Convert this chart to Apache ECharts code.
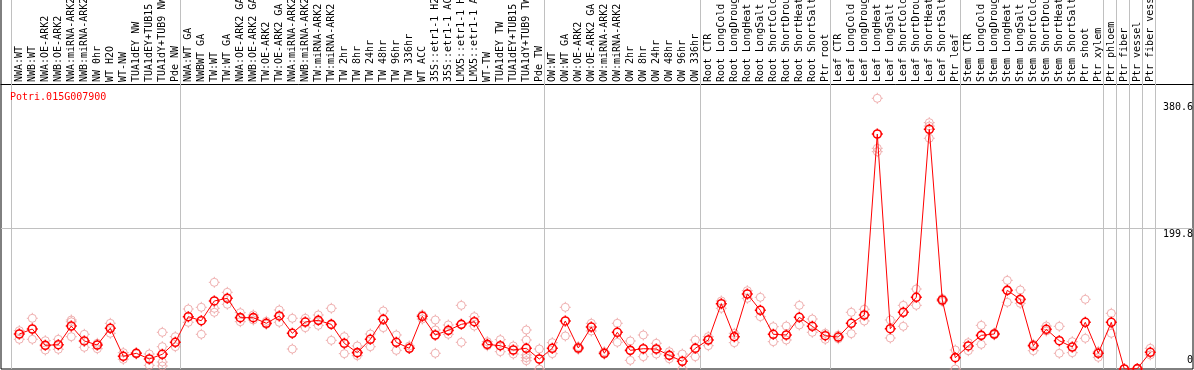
<!DOCTYPE html>
<html>
<head>
<meta charset="utf-8">
<script src="https://cdn.jsdelivr.net/npm/echarts@6/dist/echarts.min.js"></script>
<style>
html,body{margin:0;padding:0;background:#fff;}
#chart{width:1194px;height:370px;}
</style>
</head>
<body>
<div id="chart"></div>
<script>
const geneName = 'Potri.015G007900';

const categories = [
  'NWA:WT','NWB:WT','NWA:OE-ARK2','NWB:OE-ARK2','NWA:miRNA-ARK2','NWB:miRNA-ARK2','NW 0hr','WT H2O','WT-NW',
  'TUA1dEY NW','TUA1dEY+TUB15 NW','TUA1dY+TUB9 NW','Pde NW',
  'NWA:WT GA','NWBWT GA','TW:WT','TW:WT GA','NWA:OE-ARK2 GA','NWB:OE-ARK2 GA','TW:OE-ARK2','TW:OE-ARK2 GA',
  'NWA:miRNA-ARK2','NWB:miRNA-ARK2','TW:miRNA-ARK2','TW:miRNA-ARK2','TW 2hr','TW 8hr','TW 24hr','TW 48hr','TW 96hr','TW 336hr',
  'WT ACC','35S::etr1-1 H2O','35S::etr1-1 ACC','LMX5::etr1-1 H2O','LMX5::etr1-1 ACC','WT-TW','TUA1dEY TW','TUA1dEY+TUB15 TW','TUA1dY+TUB9 TW','Pde TW',
  'OW:WT','OW:WT GA','OW:OE-ARK2','OW:OE-ARK2 GA','OW:miRNA-ARK2','OW:miRNA-ARK2','OW 2hr','OW 8hr','OW 24hr','OW 48hr','OW 96hr','OW 336hr',
  'Root CTR','Root LongCold','Root LongDrought','Root LongHeat','Root LongSalt','Root ShortCold','Root ShortDrought','Root ShortHeat','Root ShortSalt','Ptr root',
  'Leaf CTR','Leaf LongCold','Leaf LongDrought','Leaf LongHeat','Leaf LongSalt','Leaf ShortCold','Leaf ShortDrought','Leaf ShortHeat','Leaf ShortSalt','Ptr leaf',
  'Stem CTR','Stem LongCold','Stem LongDrought','Stem LongHeat','Stem LongSalt','Stem ShortCold','Stem ShortDrought','Stem ShortHeat','Stem ShortSalt','Ptr shoot',
  'Ptr xylem','Ptr phloem','Ptr fiber','Ptr vessel','Ptr fiber vessel'
];

const meanValues = [
  49.7,56.8,33.6,34.5,61.0,39.8,34.1,57.8,18.0,22.3,14.2,20.9,37.9,
  74.3,68.6,96.6,100.4,72.9,72.9,64.9,75.3,50.7,66.7,69.1,63.4,36.5,23.2,42.2,70.6,37.9,29.4,
  74.8,48.3,54.9,63.4,67.2,35.0,33.1,27.0,29.4,14.2,
  29.4,68.2,29.8,59.6,22.3,52.1,26.5,28.8,28.4,19.4,10.9,29.4,
  41.2,92.7,45.9,106.5,83.4,49.3,48.3,73.4,60.6,47.3,
  45.4,64.9,76.7,333.7,57.2,80.5,101.8,340.4,98.0,16.1,
  32.7,47.8,49.7,111.7,98.9,33.1,56.4,40.2,31.2,66.3,
  22.3,66.3,0,0.5,23.7
];

const replicateValues = [
  [54.4,42.2],[72,42.2],[40.2,27],[42.2,28],[69.6,67,45.9],[49.3,30.8],[36.5,28.8],[64.9,50.7],[23.2,13.8],
  [21.3,23],[21.3,5.2],[52.1,31.7,9.9,4.3],[45.9,31.7],
  [85.2,66.3],[87.6,49.3],[123.1,86.2,80.5],[108.9,91.9],[80,67.2],[76.7,69.6],[67.7,63.5],[83.8,66.3],
  [72,28.4],[72,58.7],[76.7,62],[86.2,40.7],[45.9,21.8],[32.7,18.9],[49.7,31.7],[82.4,58.7],[48.3,26.5],[32.7,29.4],
  [71,77],[69.6,55.4,22.3],[62.5,49.3],[90.4,37.9],[74.3,61],[38.8,33],[41.7,24.6],[32.7,21.3],[55.4,41.2,20,11.8,16],[28.4,0],
  [37.4,21.8],[87.6,46.9],[31.7,28],[64.9,54],[24.5,21],[64.9,37.9],[39.8,12.3],[48.3,17.5],[36.5,21.3],[24.6,14.6],[21.3,0],[41.2,17.5],
  [45.9,33.1],[96.6,86.2],[50.7,37.4],[111.2,100.4],[101.8,74.3],[60.1,38.8],[61,41.2],[90.4,62.5],[71,52.1],[50.7,42.2],
  [48,43],[80.5,50.2],[84.8,68.2],[384.4,313.4,308.6],[69.6,44],[90.4,60.6],[113.6,90.4],[349.8,345,327.6],[100,96],[27,0],
  [37.4,26],[62,35],[51,48.5],[125.9,94.7],[112.2,93.3],[26,35],[61,54],[60.6,22.3],[38.8,23.2],[99,43.6],
  [16.6,25],[79.1,50.7],[0],[0],[29.4,20]
];

// group separators are drawn right after these category indices
const separatorAfter = [-1, 12, 40, 52, 62, 72, 83, 84, 85, 86, 87];

const yTickValues = [0, 199.8, 380.6];
const yTickLabels = ['0', '199.8', '380.6'];

const FONT = 'DejaVu Sans Mono';
const RED = '#ff0000';
const PINK = '#eb9c9c';
const GRID_GREY = '#c0c0c0';

// circle with four small spikes
const markerPath = 'path://M11,0L11,3M11,19L11,22M0,11L3,11M19,11L22,11M3,11A8,8,0,1,0,19,11A8,8,0,1,0,3,11Z';

const meanData = meanValues.map((v, i) => [i, v]);
const repData = [];
replicateValues.forEach((arr, i) => arr.forEach(v => repData.push([i, v])));
const catIndices = categories.map((c, i) => i);

const markData = [];
separatorAfter.forEach(s => {
  markData.push({
    xAxis: s + 0.385,
    lineStyle: { color: GRID_GREY, width: 1, type: 'solid' },
    label: { show: false }
  });
});
yTickValues.forEach((v, i) => {
  const isMin = i === 0;
  const isMid = i > 0 && i < yTickValues.length - 1;
  markData.push({
    yAxis: v,
    lineStyle: { color: isMid ? GRID_GREY : 'rgba(0,0,0,0)', width: 1, type: 'solid' },
    label: {
      show: true,
      formatter: yTickLabels[i],
      position: isMin ? 'insideEndTop' : 'insideEndBottom',
      distance: isMin ? [0, 4] : [0, 1],
      color: '#000',
      fontFamily: FONT,
      fontSize: 10
    }
  });
});

const X_MIN = -1.4077, X_MAX = 90.285;

const chart = echarts.init(document.getElementById('chart'), null, { renderer: 'canvas' });
chart.setOption({
  animation: false,
  backgroundColor: '#fff',
  title: {
    text: geneName,
    left: 10,
    top: 92,
    padding: 0,
    textStyle: { color: RED, fontFamily: FONT, fontSize: 10, fontWeight: 'normal' }
  },
  grid: {
    left: 1, right: 1, top: -1, bottom: 1,
    show: true, borderColor: '#000', borderWidth: 1, backgroundColor: '#fff',
    containLabel: false,
    outerBoundsMode: 'none'
  },
  xAxis: [
    {
      type: 'value',
      position: 'top',
      offset: -85,
      min: X_MIN,
      max: X_MAX,
      axisLine: { show: false },
      axisTick: { show: false },
      splitLine: { show: false },
      axisLabel: {
        show: true,
        customValues: catIndices,
        rotate: 90,
        margin: 2,
        color: '#000',
        fontFamily: FONT,
        fontSize: 10,
        formatter: v => categories[Math.round(v)] || ''
      }
    },
    {
      type: 'value',
      position: 'top',
      offset: -85,
      min: X_MIN,
      max: X_MAX,
      axisLine: { show: true, onZero: false, lineStyle: { color: '#000', width: 1 } },
      axisTick: { show: false },
      splitLine: { show: false },
      axisLabel: { show: false }
    }
  ],
  yAxis: {
    type: 'value',
    min: 0,
    max: 525.4,
    axisLine: { show: false },
    axisTick: { show: false },
    axisLabel: { show: false },
    splitLine: { show: false }
  },
  series: [
    {
      type: 'scatter',
      name: 'replicates',
      data: repData,
      symbol: markerPath,
      symbolSize: 11,
      symbolKeepAspect: true,
      silent: true,
      z: 3,
      itemStyle: { color: 'transparent', borderColor: PINK, borderWidth: 1 }
    },
    {
      type: 'line',
      name: 'mean',
      data: meanData,
      symbol: markerPath,
      symbolSize: 11,
      symbolKeepAspect: true,
      showAllSymbol: true,
      silent: true,
      z: 4,
      lineStyle: { color: RED, width: 1 },
      itemStyle: { color: 'transparent', borderColor: RED, borderWidth: 1.6 },
      markLine: {
        silent: true,
        symbol: ['none', 'none'],
        animation: false,
        z: 1,
        data: markData
      }
    }
  ]
});
</script>
</body>
</html>
